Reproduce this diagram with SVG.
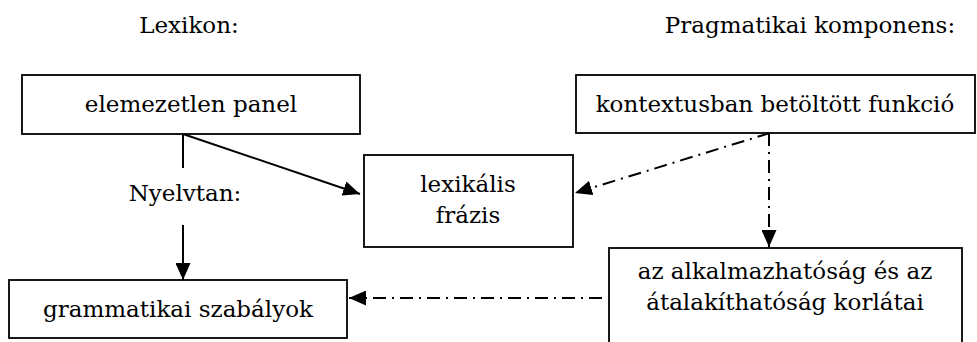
<svg xmlns="http://www.w3.org/2000/svg" width="977" height="342" viewBox="0 0 977 342">
<style>
  text { font-family: "DejaVu Serif", "Liberation Serif", serif; font-size: 23px; fill: #000; text-anchor: middle; }
  .box { fill: #fff; stroke: #000; stroke-width: 1.8; }
  .solid { fill: none; stroke: #000; stroke-width: 2; }
  .dd { fill: none; stroke: #000; stroke-width: 2; stroke-dasharray: 13 6 2 6; }
</style>
<defs>
  <marker id="ah" markerUnits="userSpaceOnUse" markerWidth="17" markerHeight="15" refX="17" refY="7.5" orient="auto">
    <path d="M0,0 L17,7.5 L0,15 z" fill="#000"/>
  </marker>
</defs>
<rect width="977" height="342" fill="#fff"/>
<g id="titles">
  <text x="189" y="33">Lexikon:</text>
  <text x="810" y="33">Pragmatikai komponens:</text>
</g>
<g id="connectors">
  <line class="solid" x1="183" y1="134" x2="183" y2="168"/>
  <line class="solid" x1="183" y1="225" x2="183" y2="280" marker-end="url(#ah)"/>
  <line class="solid" x1="183" y1="134" x2="360" y2="194" marker-end="url(#ah)"/>
  <line class="dd" x1="770" y1="133" x2="575" y2="193" marker-end="url(#ah)"/>
  <line class="dd" x1="769" y1="133" x2="769" y2="247" marker-end="url(#ah)"/>
  <line class="dd" x1="602" y1="298" x2="349" y2="298" marker-end="url(#ah)"/>
  <text x="185" y="201">Nyelvtan:</text>
</g>
<g id="node-panel">
  <rect class="box" x="22" y="75" width="338" height="59"/>
  <text x="191" y="112">elemezetlen panel</text>
</g>
<g id="node-funkcio">
  <rect class="box" x="576" y="75" width="399" height="58"/>
  <text x="775" y="112">kontextusban betöltött funkció</text>
</g>
<g id="node-lexikalis">
  <rect class="box" x="364" y="155" width="209" height="92"/>
  <text x="468" y="192">lexikális</text>
  <text x="468" y="223">frázis</text>
</g>
<g id="node-grammatikai">
  <rect class="box" x="9" y="280" width="338" height="58"/>
  <text x="178" y="317">grammatikai szabályok</text>
</g>
<g id="node-korlatai">
  <rect class="box" x="609" y="248" width="353" height="110"/>
  <text x="785" y="279">az alkalmazhatóság és az</text>
  <text x="785" y="310">átalakíthatóság korlátai</text>
</g>
</svg>
